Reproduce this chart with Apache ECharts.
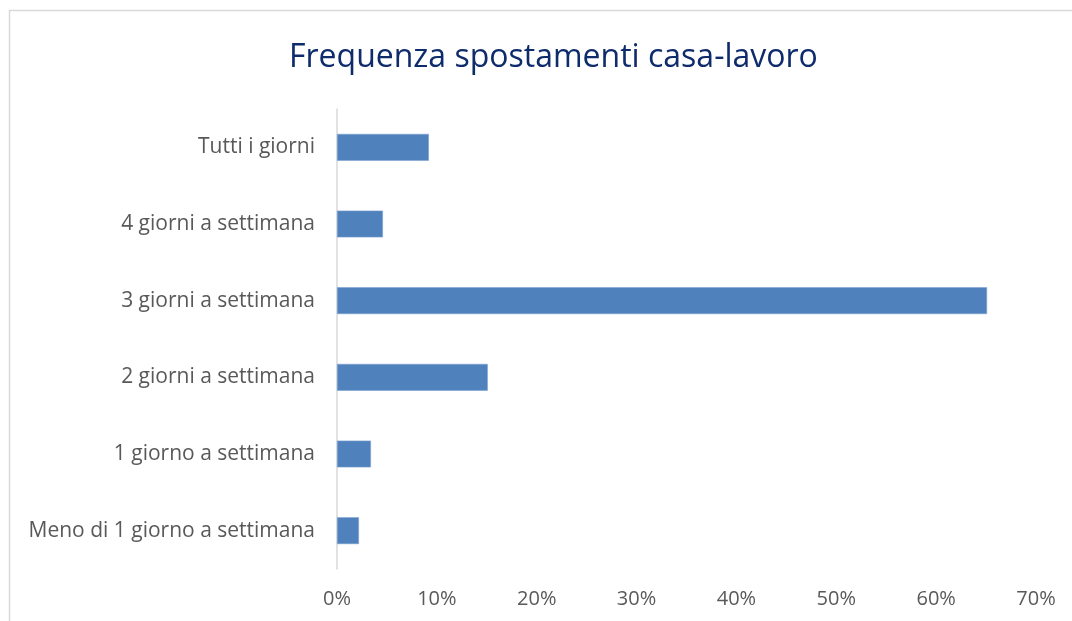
<!DOCTYPE html>
<html>
<head>
<meta charset="utf-8">
<script src="https://cdn.jsdelivr.net/npm/echarts@6/dist/echarts.min.js"></script>
<style>
  html, body { margin: 0; padding: 0; background: #fff; }
  #chart { width: 1072px; height: 621px; }
</style>
</head>
<body>
<div id="chart"></div>
<script>
// Weekly commute frequency (share of respondents, %)
const categories = [
  'Meno di 1 giorno a settimana',
  '1 giorno a settimana',
  '2 giorni a settimana',
  '3 giorni a settimana',
  '4 giorni a settimana',
  'Tutti i giorni'
];
const shares = [2.2, 3.4, 15.1, 65.1, 4.6, 9.2];
const titleText = 'Frequenza spostamenti casa-lavoro';

const fontFamily = 'Open Sans, Noto Sans, sans-serif';
const chart = echarts.init(document.getElementById('chart'), null, { renderer: 'canvas' });

chart.setOption({
  animation: false,
  backgroundColor: '#ffffff',
  title: {
    text: titleText,
    left: 284,
    top: 37,
    textStyle: { color: '#0e2b6b', fontSize: 32, fontWeight: 'normal', fontFamily }
  },
  graphic: [{
    type: 'rect',
    shape: { x: 9.5, y: 10.5, width: 1100, height: 700 },
    style: { fill: 'none', stroke: '#d9d9d9', lineWidth: 1.5 },
    silent: true
  }],
  grid: { left: 337, right: 36, top: 109, bottom: 52, containLabel: false },
  xAxis: {
    type: 'value',
    min: 0,
    max: 70,
    interval: 10,
    axisLine: { show: false },
    axisTick: { show: false },
    splitLine: { show: false },
    axisLabel: {
      formatter: v => v + '%',
      color: '#595959',
      fontSize: 20,
      fontFamily,
      margin: 20
    }
  },
  yAxis: {
    type: 'category',
    data: categories,
    axisLine: { show: true, lineStyle: { color: '#d9d9d9', width: 1.5 } },
    axisTick: { show: false },
    axisLabel: { color: '#595959', fontSize: 21, fontFamily, margin: 22 }
  },
  series: [{
    type: 'bar',
    data: shares,
    barCategoryGap: '65%',
    itemStyle: { color: '#4f81bd', borderColor: '#7ea3d1', borderWidth: 0.6 }
  }]
});
</script>
</body>
</html>
